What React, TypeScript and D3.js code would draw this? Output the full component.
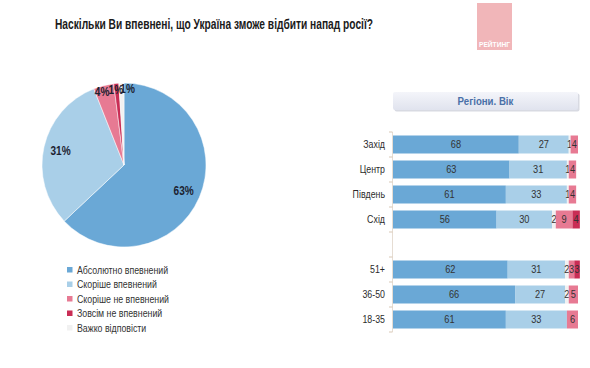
import React, { useEffect, useRef } from 'react';
import * as d3 from 'd3';

// overall answers (pie)
const answerLabels = ['Абсолютно впевнений', 'Скоріше впевнений', 'Скоріше не впевнений', 'Зовсім не впевнений', 'Важко відповісти'];
const overall = [63, 31, 4, 1, 1];
const colors = ['#6aa8d6', '#a9cfe8', '#e77a93', '#c92d55', '#f1f1f1'];

// breakdown by region / age (blank row separates the groups)
const categories = ['Захід', 'Центр', 'Південь', 'Схід', ' ', '51+', '36-50', '18-35'];
const absolutely = [68, 63, 61, 56, 0, 62, 66, 61];
const rather = [27, 31, 33, 30, 0, 31, 27, 33];
const hard = [1, 1, 1, 2, 0, 2, 2, 0];
const ratherNot = [4, 4, 4, 9, 0, 3, 5, 6];
const notAtAll = [0, 0, 0, 4, 0, 3, 0, 0];

const W = 590;
const H = 368;
const FONT = '"Liberation Sans", Arial, sans-serif';
const NARROW = 0.84; // the original uses a condensed face

function App(): JSX.Element {
  const svgRef = useRef<SVGSVGElement>(null);

  useEffect(() => {
    const svg = d3.select(svgRef.current);
    svg.selectAll('*').remove();
    svg.style('font-family', FONT);

    // condensed text helper
    const txt = (g: any, x: number, y: number, s: string | number, k = NARROW) =>
      g.append('text')
        .attr('transform', `translate(${x},${y}) scale(${k},1)`)
        .attr('dominant-baseline', 'central')
        .text(s);

    // title
    svg.append('text')
      .attr('x', 55).attr('y', 24)
      .attr('dominant-baseline', 'central')
      .attr('font-size', 14).attr('font-weight', 'bold').attr('fill', '#1b1b1b')
      .attr('textLength', 318).attr('lengthAdjust', 'spacingAndGlyphs')
      .text('Наскільки Ви впевнені, що Україна зможе відбити напад росії?');

    // logo
    svg.append('rect').attr('x', 477).attr('y', 3).attr('width', 35).attr('height', 47).attr('fill', '#f1b6b9');
    svg.append('text')
      .attr('x', 494.5).attr('y', 44).attr('text-anchor', 'middle').attr('dominant-baseline', 'central')
      .attr('font-size', 6.5).attr('font-weight', 'bold').attr('fill', '#ffffff')
      .attr('textLength', 31).attr('lengthAdjust', 'spacingAndGlyphs')
      .text('РЕЙТИНГ');

    // pie
    const cx = 124, cy = 165, r = 82;
    const pie = d3.pie<number>().sort(null).value(d => d);
    const arc = d3.arc<d3.PieArcDatum<number>>().innerRadius(0).outerRadius(r);
    const pg = svg.append('g').attr('transform', `translate(${cx},${cy})`);
    const arcs = pie(overall);
    pg.selectAll('path')
      .data(arcs)
      .join('path')
      .attr('d', arc)
      .attr('fill', (_, i) => colors[i])
      .attr('stroke', '#ffffff')
      .attr('stroke-width', 0.5);
    const nudge = [0, 0, -3, -1, 6];
    arcs.forEach((d, i) => {
      const a = (d.startAngle + d.endAngle) / 2;
      const lr = i < 2 ? 65 : 76;
      txt(pg, Math.sin(a) * lr + nudge[i], -Math.cos(a) * lr, `${d.data}%`)
        .attr('text-anchor', 'middle')
        .attr('font-size', 12).attr('font-weight', 'bold').attr('fill', '#1c2230');
    });

    // legend
    const lg = svg.append('g');
    answerLabels.forEach((lab, i) => {
      const y = 270 + i * 14.5;
      lg.append('rect').attr('x', 67).attr('y', y - 3).attr('width', 5.5).attr('height', 5.5).attr('fill', colors[i]);
      txt(lg, 77, y, lab, 0.8).attr('font-size', 11).attr('fill', '#333');
    });

    // header box
    const defs = svg.append('defs');
    const grad = defs.append('linearGradient').attr('id', 'hdr').attr('x1', 0).attr('y1', 0).attr('x2', 0).attr('y2', 1);
    grad.append('stop').attr('offset', '0%').attr('stop-color', '#f4f5fa');
    grad.append('stop').attr('offset', '100%').attr('stop-color', '#e0e3ee');
    svg.append('rect').attr('x', 394.5).attr('y', 93.5).attr('width', 185).attr('height', 18).attr('fill', '#d8dae2').attr('rx', 2);
    svg.append('rect').attr('x', 393).attr('y', 92).attr('width', 185).attr('height', 18).attr('fill', 'url(#hdr)').attr('rx', 2);
    txt(svg, 485.5, 101, 'Регіони. Вік')
      .attr('text-anchor', 'middle')
      .attr('font-size', 11.5).attr('font-weight', 'bold').attr('fill', '#4a70a8');

    // bars
    const x = d3.scaleLinear().domain([0, 100]).range([393, 578]);
    const y = d3.scaleBand<string>().domain(categories).range([132, 332]).paddingInner(0.28).paddingOuter(0.14);
    const series = [absolutely, rather, hard, ratherNot, notAtAll];
    const segColors = [colors[0], colors[1], colors[4], colors[2], colors[3]];

    // axis
    const ax = svg.append('g');
    ax.append('line').attr('x1', 392.5).attr('x2', 392.5).attr('y1', 132).attr('y2', 332)
      .attr('stroke', '#e6ddd3').attr('stroke-width', 1);
    const bounds = categories.map(c => (y(c) as number) - (y.step() - y.bandwidth()) / 2).concat([332]);
    ax.selectAll('line.tick')
      .data(bounds)
      .join('line')
      .attr('class', 'tick')
      .attr('x1', 389).attr('x2', 392.5)
      .attr('y1', d => d).attr('y2', d => d)
      .attr('stroke', '#d9c8b5');

    categories.forEach((cat, ci) => {
      if (cat.trim() === '') return;
      const by = y(cat) as number;
      const bh = y.bandwidth();
      txt(svg, 385, by + bh / 2, cat).attr('text-anchor', 'end')
        .attr('font-size', 10.5).attr('fill', '#2b2b2b');
      let acc = 0;
      series.forEach((s, si) => {
        const v = s[ci];
        if (!v) return;
        const x0 = x(acc);
        const x1 = x(acc + v);
        svg.append('rect').attr('x', x0).attr('y', by).attr('width', x1 - x0).attr('height', bh).attr('fill', segColors[si]);
        txt(svg, (x0 + x1) / 2, by + bh / 2, v)
          .attr('text-anchor', 'middle')
          .attr('font-size', 11).attr('fill', '#333');
        acc += v;
      });
    });
  }, []);

  return (
    <div style={{ position: 'absolute', left: 0, top: 0 }}>
      <svg ref={svgRef} width={W} height={H} style={{ display: 'block', background: '#fff' }}></svg>
    </div>
  );
}

export default App;
